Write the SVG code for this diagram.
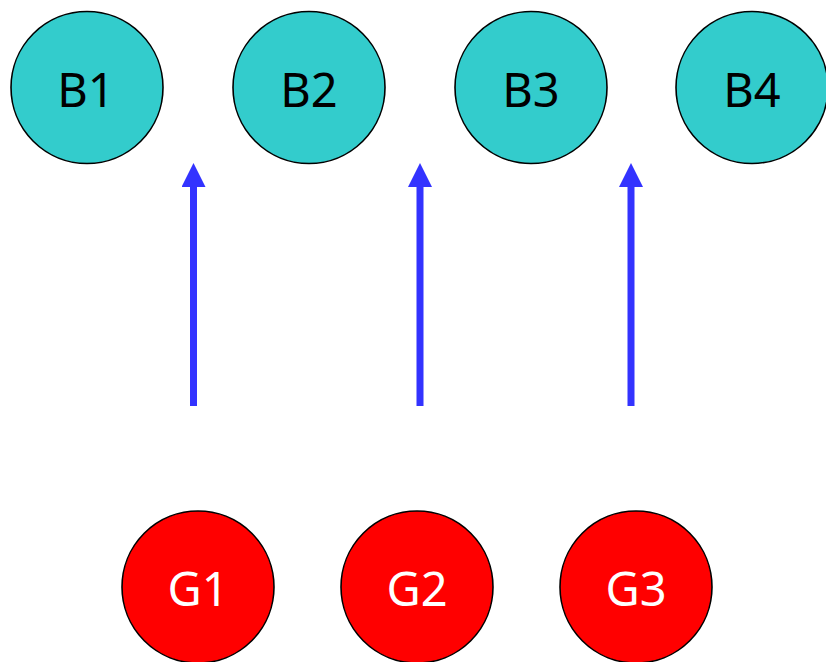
<svg xmlns="http://www.w3.org/2000/svg" width="826" height="662" viewBox="0 0 826 662">
<style>
.b{fill:#33CCCC;stroke:#000;stroke-width:1.6}
.g{fill:#FF0000;stroke:#000;stroke-width:1.6}
.t{font-family:"Noto Sans","Open Sans",sans-serif;font-size:47px;text-anchor:middle}
.tb{fill:#000}
.tg{fill:#fff}
.e{stroke:#3333FF;stroke-width:7;fill:none}
</style>
<defs>
<marker id="ah" markerUnits="userSpaceOnUse" markerWidth="24" markerHeight="24" refX="0" refY="12" orient="auto" viewBox="0 0 24 24">
<path d="M0,0 L24,12 L0,24 Z" fill="#3333FF"/>
</marker>
</defs>
<rect width="826" height="662" fill="#fff"/>
<g id="connectors">
<line class="e" x1="193.5" y1="406" x2="193.5" y2="187" marker-end="url(#ah)"/>
<line class="e" x1="420" y1="406" x2="420" y2="187" marker-end="url(#ah)"/>
<line class="e" x1="631" y1="406" x2="631" y2="187" marker-end="url(#ah)"/>
</g>
<g id="B1"><circle class="b" cx="87" cy="87.5" r="76"/><text class="t tb" x="86" y="107">B1</text></g>
<g id="B2"><circle class="b" cx="309" cy="87.5" r="76"/><text class="t tb" x="309" y="107">B2</text></g>
<g id="B3"><circle class="b" cx="531" cy="87.5" r="76"/><text class="t tb" x="531" y="107">B3</text></g>
<g id="B4"><circle class="b" cx="752" cy="87.5" r="76"/><text class="t tb" x="752" y="107">B4</text></g>
<g id="G1"><circle class="g" cx="198" cy="587" r="76"/><text class="t tg" x="198" y="606">G1</text></g>
<g id="G2"><circle class="g" cx="417" cy="587" r="76"/><text class="t tg" x="417" y="606">G2</text></g>
<g id="G3"><circle class="g" cx="636" cy="587" r="76"/><text class="t tg" x="636" y="606">G3</text></g>
</svg>
